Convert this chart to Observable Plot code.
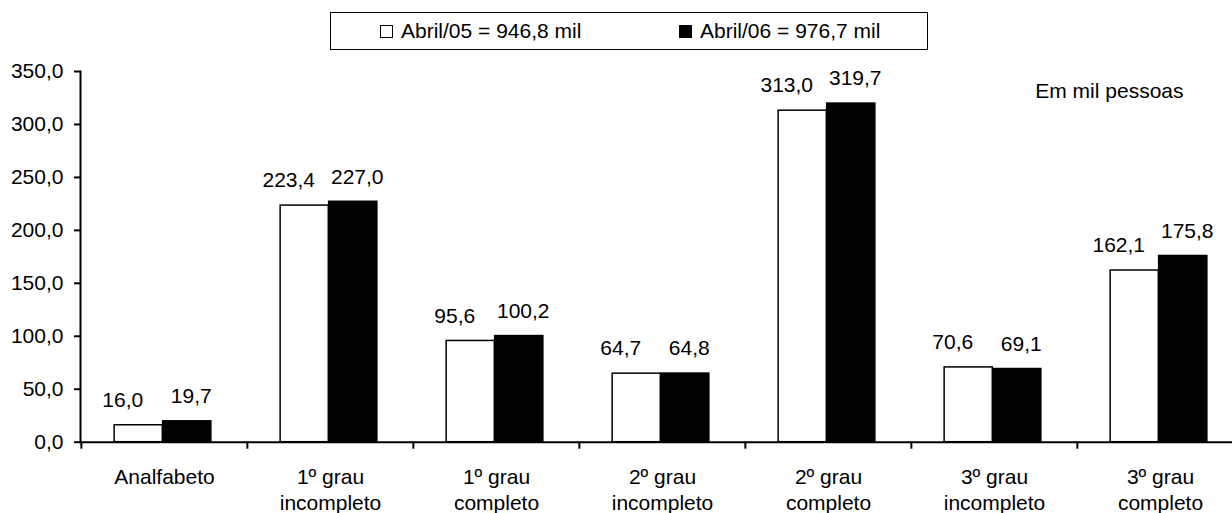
<!DOCTYPE html>
<html>
<head>
<meta charset="utf-8">
<script src="https://cdn.jsdelivr.net/npm/d3@7"></script>
<script src="https://cdn.jsdelivr.net/npm/@observablehq/plot@0.6"></script>
<style>
  html, body { margin: 0; padding: 0; background: #fff; overflow: hidden; }
  body { font-family: "Liberation Sans", Arial, sans-serif; color: #000; }
  #wrap { position: relative; width: 1232px; height: 513px; }
  #legendRow { position: relative; width: 1232px; height: 60px; }
  #legend { position: absolute; left: 330px; top: 12px; width: 598px; height: 38px;
            border: 1px solid #000; box-sizing: border-box; font-size: 21px; background: #fff; }
  .item { position: absolute; top: 0; height: 100%; display: flex; align-items: center; white-space: nowrap; }
  .sw { width: 13px; height: 13px; border: 1.5px solid #000; box-sizing: border-box; margin-right: 8px; }
  #chart svg { display: block; }
</style>
</head>
<body>
<div id="wrap">
  <div id="legendRow"><div id="legend"></div></div>
  <div id="chart"></div>
</div>
<script>
// ---- data ----
const categories = [
  "Analfabeto",
  "1º grau\nincompleto",
  "1º grau\ncompleto",
  "2º grau\nincompleto",
  "2º grau\ncompleto",
  "3º grau\nincompleto",
  "3º grau\ncompleto"
];
const series = ["Abril/05", "Abril/06"];
const seriesTotals = ["946,8 mil", "976,7 mil"];
const abr05 = [16.0, 223.4, 95.6, 64.7, 313.0, 70.6, 162.1];
const abr06 = [19.7, 227.0, 100.2, 64.8, 319.7, 69.1, 175.8];
const yTicks = [0, 50, 100, 150, 200, 250, 300, 350];
const unitNote = "Em mil pessoas";

// ---- helpers ----
const fmt = v => v.toFixed(1).replace(".", ",");
const rows05 = categories.map((c, i) => ({cat: c, s: series[0], v: abr05[i]}));
const rows06 = categories.map((c, i) => ({cat: c, s: series[1], v: abr06[i]}));
const seriesFill = {"Abril/05": "#fff", "Abril/06": "#000"};

// ---- legend ----
const legend = document.getElementById("legend");
const legendLefts = [49, 348];
series.forEach((s, i) => {
  const it = document.createElement("div");
  it.className = "item";
  it.style.left = legendLefts[i] + "px";
  const sw = document.createElement("span");
  sw.className = "sw";
  sw.style.background = seriesFill[s];
  const tx = document.createElement("span");
  tx.textContent = `${s} = ${seriesTotals[i]}`;
  it.append(sw, tx);
  legend.append(it);
});

// ---- layout ----
const W = 1232, H = 453;
const xLeft = 80, xRight = 1244;
const step = (xRight - xLeft) / categories.length;
const bw = 48.5;      // bar width
const shift = -1.5;   // pair offset from band centre
const c = step / 2 + shift;

const chart = Plot.plot({
  width: W,
  height: H,
  marginTop: 11,
  marginBottom: 71.3,
  marginLeft: xLeft,
  marginRight: 0,
  style: {fontFamily: "'Liberation Sans', Arial, sans-serif", fontSize: "21px", color: "#000", background: "#fff", overflow: "hidden"},
  x: {domain: categories, range: [xLeft, xRight], padding: 0},
  y: {domain: [0, 350]},
  marks: [
    Plot.barY(rows05, {x: "cat", y: "v", fill: "#fff", stroke: "#000", strokeWidth: 1.5,
      insetLeft: c - bw, insetRight: step - c}),
    Plot.barY(rows06, {x: "cat", y: "v", fill: "#000", stroke: "#000", strokeWidth: 1.5,
      insetLeft: c, insetRight: step - c - bw}),
    Plot.ruleY([0], {stroke: "#000", strokeWidth: 2}),
    Plot.frame({anchor: "left", stroke: "#000", strokeWidth: 2}),
    Plot.axisY({ticks: yTicks, tickFormat: fmt, tickSize: 6, tickPadding: 11, strokeWidth: 2,
      label: null, fontSize: 21, fill: "#000"}),
    Plot.axisX({tickSize: 0, tickPadding: 23, label: null, lineHeight: 1.24, fontSize: 21, fill: "#000"}),
    Plot.axisX({tickSize: 7, tickFormat: () => "", dx: -step / 2, strokeWidth: 2, label: null}),
    Plot.text(rows05, {x: "cat", y: "v", text: d => fmt(d.v), dx: shift - bw / 2 - 16, dy: -25,
      fontSize: 21, fill: "#000"}),
    Plot.text(rows06, {x: "cat", y: "v", text: d => fmt(d.v), dx: shift + bw / 2 + 4, dy: -25,
      fontSize: 21, fill: "#000"}),
    Plot.text([unitNote], {frameAnchor: "top-right", textAnchor: "end", lineAnchor: "middle",
      dx: -49, dy: 20, fontSize: 21, fill: "#000"})
  ]
});
document.getElementById("chart").append(chart);
</script>
</body>
</html>
